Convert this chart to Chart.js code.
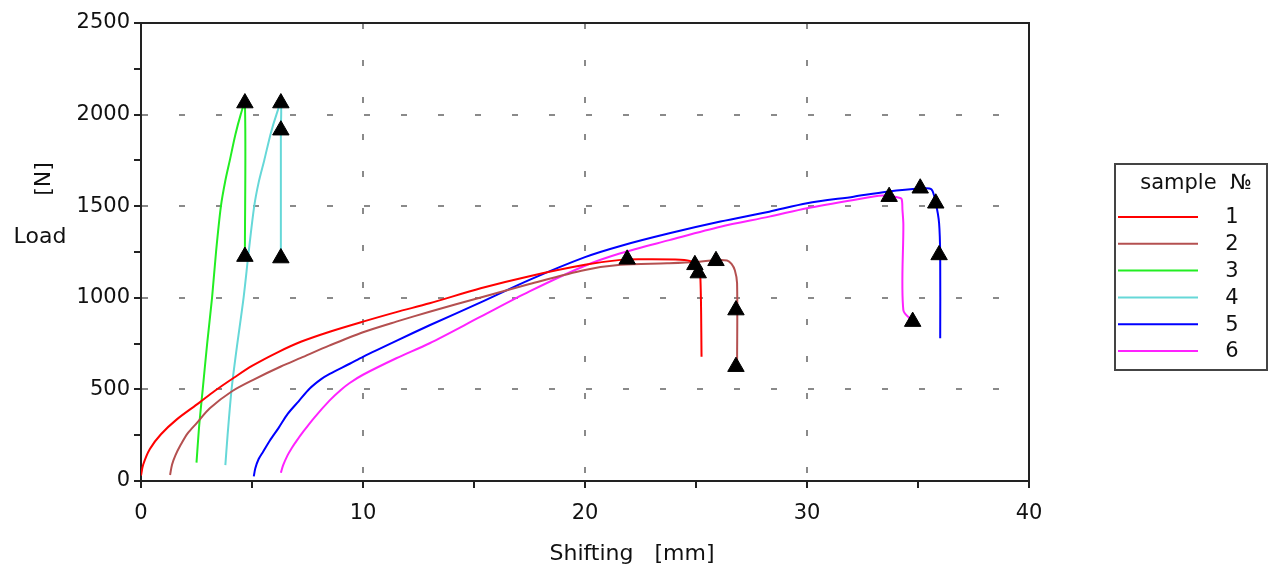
<!DOCTYPE html>
<html>
<head>
<meta charset="utf-8">
<script src="https://cdn.jsdelivr.net/npm/chart.js@4.4.1/dist/chart.umd.min.js"></script>
<style>
  html, body { margin: 0; padding: 0; background: #ffffff; }
  #wrap { width: 1269px; height: 572px; position: relative; }
</style>
</head>
<body>
<div id="wrap"><canvas id="c" width="1269" height="572"></canvas></div>
<script>
// ---------- data ----------
const sampleLabels = ['1', '2', '3', '4', '5', '6'];
const sampleColors = ['#ff0000', '#b45050', '#22ee22', '#66d8d8', '#0000ff', '#ff22ff'];

const s1x = [0, 0.1, 0.4, 0.9, 1.6, 2.6, 3.3, 4.2, 5.0, 6.2, 7.2, 8.5, 10, 11.5, 13, 15.3, 17.5, 20, 21.6, 22.5, 24.3, 24.8, 25.1, 25.2, 25.25];
const s1y = [30, 90, 175, 255, 335, 425, 490, 565, 628, 705, 760, 815, 870, 922, 970, 1052, 1118, 1180, 1207, 1210, 1208, 1198, 1160, 1100, 678];

const s2x = [1.31, 1.4, 1.55, 1.8, 2.1, 2.5, 3.1, 4.1, 5.1, 6.3, 7.2, 8.5, 10, 11.5, 13, 15.3, 17.5, 20, 21.6, 23.7, 25.0, 25.7, 26.4, 26.6, 26.75, 26.85, 26.85];
const s2y = [33, 90, 140, 200, 260, 315, 397, 490, 555, 625, 672, 740, 812, 870, 924, 1002, 1075, 1152, 1180, 1188, 1195, 1204, 1204, 1185, 1150, 1080, 624];

const s3x = [2.5, 2.62, 2.78, 2.98, 3.2, 3.38, 3.6, 3.8, 4.0, 4.25, 4.49, 4.68, 4.68];
const s3y = [100, 300, 500, 750, 1000, 1250, 1500, 1640, 1750, 1890, 2000, 2063, 1225];

const s4x = [3.8, 3.9, 4.08, 4.3, 4.62, 4.85, 5.1, 5.3, 5.55, 5.85, 6.1, 6.3, 6.3, 6.3];
const s4y = [87, 250, 500, 715, 1000, 1250, 1500, 1630, 1750, 1900, 2000, 2063, 1915, 1217];

const s5x = [5.08, 5.15, 5.3, 5.5, 5.8, 6.2, 6.6, 7.1, 7.6, 8.1, 8.5, 9.4, 10, 11.5, 13, 15.3, 17.5, 20, 21.6, 23.8, 26.1, 28.3, 30, 32.1, 33.6, 35.1, 35.6, 35.8, 35.95, 36.0, 36.0];
const s5y = [25, 70, 120, 160, 220, 290, 365, 435, 505, 555, 585, 640, 678, 765, 850, 975, 1098, 1222, 1283, 1352, 1416, 1470, 1516, 1552, 1579, 1596, 1592, 1516, 1407, 1224, 779];

const s6x = [6.3, 6.4, 6.6, 6.8, 7.0, 7.3, 7.8, 8.5, 9.0, 9.4, 10, 11.5, 13, 15.3, 17.5, 20, 21.6, 23.8, 26.1, 28.3, 30, 32.1, 33.4, 34.1, 34.26, 34.3, 34.34, 34.34, 34.79];
const s6y = [45, 85, 140, 182, 218, 268, 345, 440, 497, 535, 580, 670, 752, 897, 1035, 1175, 1243, 1315, 1388, 1443, 1489, 1534, 1558, 1548, 1540, 1480, 1400, 933, 870];

// triangle markers (black)
const m1x = [21.9, 24.95, 25.1];  const m1y = [1210, 1180, 1135];
const m2x = [25.9, 26.8, 26.8];   const m2y = [1202, 933, 624];
const m3x = [4.68, 4.68];         const m3y = [2063, 1225];
const m4x = [6.3, 6.3, 6.3];      const m4y = [2063, 1915, 1217];
const m5x = [35.1, 35.8, 35.95];  const m5y = [1598, 1516, 1234];
const m6x = [33.7, 34.76];        const m6y = [1552, 870];

const xTitle = 'Shifting   [mm]';
const yTitleUnit = '[N]';
const yTitleName = 'Load';
const legendTitle = 'sample  №';

// ---------- build datasets ----------
const seriesX = [s1x, s2x, s3x, s4x, s5x, s6x];
const seriesY = [s1y, s2y, s3y, s4y, s5y, s6y];
const markX = [m1x, m2x, m3x, m4x, m5x, m6x];
const markY = [m1y, m2y, m3y, m4y, m5y, m6y];
const zip = (xs, ys) => xs.map((x, i) => ({ x: x, y: ys[i] }));

const datasets = [];
seriesX.forEach((xs, i) => {
  datasets.push({
    label: sampleLabels[i],
    data: zip(xs, seriesY[i]),
    showLine: true,
    borderColor: sampleColors[i],
    backgroundColor: sampleColors[i],
    borderWidth: 2,
    pointRadius: 0,
    tension: 0.3,
    order: 2
  });
});
const allMarks = [];
markX.forEach((xs, i) => { allMarks.push(...zip(xs, markY[i])); });
datasets.push({
  label: 'markers',
  data: allMarks,
  showLine: false,
  pointStyle: 'triangle',
  pointRadius: 9.5,
  pointBorderWidth: 1,
  pointBackgroundColor: '#000000',
  pointBorderColor: '#000000',
  order: 0
});

const FONT = 'DejaVu Sans';
const TEXT = '#111111';

const framePlugin = {
  id: 'frame',
  afterDatasetsDraw(chart) {
    const { ctx, chartArea: a } = chart;
    ctx.save();
    ctx.strokeStyle = '#222';
    ctx.lineWidth = 2;
    ctx.beginPath();
    ctx.moveTo(a.left, a.top);
    ctx.lineTo(a.right, a.top);
    ctx.lineTo(a.right, a.bottom);
    ctx.stroke();
    ctx.restore();
  }
};

const titlesPlugin = {
  id: 'titles',
  afterDraw(chart) {
    const ctx = chart.ctx;
    ctx.save();
    ctx.fillStyle = TEXT;
    ctx.font = '22px "' + FONT + '"';
    ctx.textAlign = 'center';
    ctx.textBaseline = 'middle';
    ctx.fillText(xTitle, 632, 554);
    ctx.fillText(yTitleName, 40, 237);
    ctx.translate(44, 179);
    ctx.rotate(-Math.PI / 2);
    ctx.fillText(yTitleUnit, 0, 0);
    ctx.restore();
  }
};

const legendPlugin = {
  id: 'boxLegend',
  afterDraw(chart) {
    const ctx = chart.ctx;
    const L = 1115, T = 164, R = 1267, B = 370;
    ctx.save();
    ctx.strokeStyle = '#444';
    ctx.lineWidth = 2;
    ctx.strokeRect(L, T, R - L, B - T);
    ctx.fillStyle = TEXT;
    ctx.font = '21px "' + FONT + '"';
    ctx.textAlign = 'center';
    ctx.textBaseline = 'middle';
    ctx.fillText(legendTitle, 1196, 184);
    sampleLabels.forEach((lab, i) => {
      const y = 217 + i * 26.8;
      ctx.strokeStyle = sampleColors[i];
      ctx.lineWidth = 2;
      ctx.beginPath();
      ctx.moveTo(1118, y);
      ctx.lineTo(1198, y);
      ctx.stroke();
      ctx.fillStyle = TEXT;
      ctx.fillText(lab, 1232, y + 1);
    });
    ctx.restore();
  }
};

const gridColor = (step, lo, hi) => (c) =>
  (c.tick && c.tick.value % step === 0 && c.tick.value > lo && c.tick.value < hi) ? '#8a8a8a' : 'rgba(0,0,0,0)';

new Chart(document.getElementById('c'), {
  type: 'scatter',
  data: { datasets: datasets },
  plugins: [framePlugin, titlesPlugin, legendPlugin],
  options: {
    responsive: false,
    animation: false,
    layout: { padding: { left: 0, right: 240, top: 23, bottom: 0 } },
    plugins: { legend: { display: false }, tooltip: { enabled: false } },
    scales: {
      x: {
        type: 'linear',
        min: 0, max: 40,
        afterFit(scale) { scale.height = 91; },
        ticks: {
          stepSize: 5,
          padding: 13,
          color: TEXT,
          font: { family: FONT, size: 21 },
          maxRotation: 0,
          callback: (v) => (v % 10 === 0 ? String(v) : '')
        },
        grid: {
          color: gridColor(10, 0, 40),
          lineWidth: 2,
          drawTicks: true,
          tickLength: 7,
          tickColor: '#222',
          tickWidth: 2,
          tickBorderDash: []
        },
        border: { color: '#222', width: 2, dash: [6, 31] }
      },
      y: {
        type: 'linear',
        min: 0, max: 2500,
        afterFit(scale) { scale.width = 141; },
        ticks: {
          stepSize: 250,
          padding: 4,
          color: TEXT,
          font: { family: FONT, size: 21 },
          callback: (v) => (v % 500 === 0 ? String(v) : '')
        },
        grid: {
          color: gridColor(500, 0, 2500),
          lineWidth: 2,
          drawTicks: true,
          tickLength: 7,
          tickColor: '#222',
          tickWidth: 2,
          tickBorderDash: []
        },
        border: { color: '#222', width: 2, dash: [6, 31] }
      }
    }
  }
});
</script>
</body>
</html>
